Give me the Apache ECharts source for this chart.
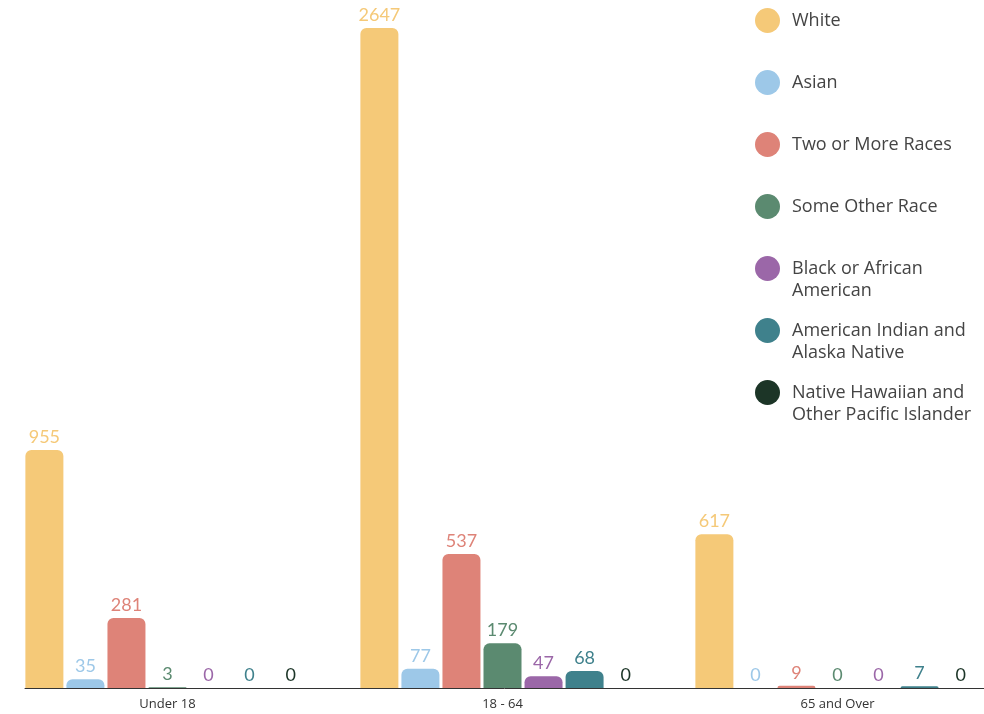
<!DOCTYPE html>
<html>
<head>
<meta charset="utf-8">
<script src="https://cdn.jsdelivr.net/npm/echarts@6/dist/echarts.min.js"></script>
<style>
html,body{margin:0;padding:0;background:#fff;}
#chart{width:984px;height:714px;}
</style>
</head>
<body>
<div id="chart"></div>
<script>
const categories = ['Under 18', '18 - 64', '65 and Over'];
const seriesNames = ['White', 'Asian', 'Two or More Races', 'Some Other Race', 'Black or African American', 'American Indian and Alaska Native', 'Native Hawaiian and Other Pacific Islander'];
const legendLines = [['White'], ['Asian'], ['Two or More Races'], ['Some Other Race'], ['Black or African', 'American'], ['American Indian and', 'Alaska Native'], ['Native Hawaiian and', 'Other Pacific Islander']];
const white = [955, 2647, 617];
const asian = [35, 77, 0];
const twoOrMore = [281, 537, 9];
const someOther = [3, 179, 0];
const black = [0, 47, 0];
const amIndian = [0, 68, 7];
const nhpi = [0, 0, 0];
const seriesValues = [white, asian, twoOrMore, someOther, black, amIndian, nhpi];
const colors = ['#F5C978', '#9DC8E8', '#DE8378', '#5B8A70', '#9B67A8', '#3F818C', '#1C3527'];

const chart = echarts.init(document.getElementById('chart'), null, {renderer: 'canvas'});
const series = seriesNames.map((name, i) => ({
  name: name,
  type: 'bar',
  xAxisIndex: 0,
  yAxisIndex: 0,
  data: seriesValues[i],
  barWidth: 38,
  barGap: '8%',
  itemStyle: {color: colors[i], borderRadius: [6, 6, 0, 0]},
  label: {
    show: true,
    position: 'top',
    distance: 4,
    color: colors[i],
    fontFamily: 'Lato',
    fontSize: 18
  }
}));

const legendFont = {fontFamily: 'Open Sans', fontSize: 18, color: '#444'};
const legendData = seriesNames.map((name, i) => {
  const multi = legendLines[i].length > 1;
  return {
    name: name,
    textStyle: {padding: multi ? [0, 0, 0, 7] : [23.5, 0, 23.5, 7]}
  };
});

const option = {
  backgroundColor: '#ffffff',
  animation: false,
  color: colors,
  legend: {
    orient: 'vertical',
    left: 755,
    top: -14,
    padding: 0,
    itemWidth: 25,
    itemHeight: 25,
    itemGap: -7,
    icon: 'circle',
    data: legendData,
    formatter: function (name) {
      const lines = legendLines[seriesNames.indexOf(name)];
      if (lines.length === 1) return lines[0];
      return '{f|' + lines[0] + '}\n{s|' + lines[1] + '}';
    },
    textStyle: Object.assign({lineHeight: 22}, legendFont, {
      rich: {
        f: Object.assign({lineHeight: 44, verticalAlign: 'bottom'}, legendFont),
        s: Object.assign({lineHeight: 25}, legendFont)
      }
    })
  },
  grid: [
    {left: 0, width: 1005, top: 28, bottom: 26, containLabel: false, outerBoundsMode: 'none'},
    {left: 25, right: 0, top: 28, bottom: 26, containLabel: false, outerBoundsMode: 'none'}
  ],
  xAxis: [
    {
      type: 'category', gridIndex: 0, data: categories,
      axisLine: {show: false}, axisTick: {show: false},
      axisLabel: {fontFamily: 'Open Sans', fontSize: 13, color: '#333', margin: 10}
    },
    {
      type: 'category', gridIndex: 1, data: categories,
      axisLine: {show: true, lineStyle: {color: '#333', width: 1}},
      axisTick: {show: false}, axisLabel: {show: false}
    }
  ],
  yAxis: [
    {type: 'value', gridIndex: 0, min: 0, max: 2647, show: false, splitLine: {show: false}},
    {type: 'value', gridIndex: 1, min: 0, max: 2647, show: false, splitLine: {show: false}}
  ],
  series: series
};
chart.setOption(option);
</script>
</body>
</html>
